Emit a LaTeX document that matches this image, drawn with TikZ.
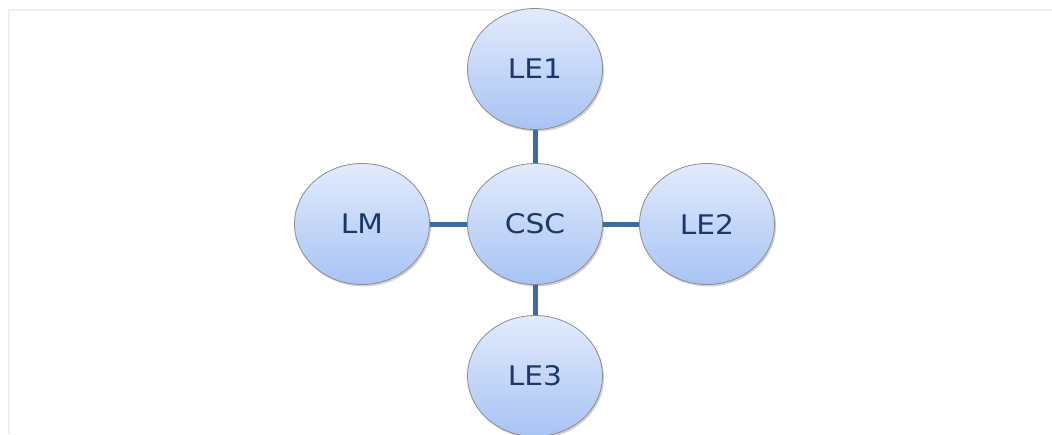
\documentclass[tikz,border=0pt]{standalone}
\usepackage{fontspec}
\setmainfont{DejaVu Sans}
\usetikzlibrary{shapes.geometric,shadows}
\definecolor{linkblue}{HTML}{3F6B9C}
\definecolor{txtblue}{HTML}{1D3868}
\definecolor{topfill}{HTML}{E2EBFC}
\definecolor{botfill}{HTML}{A8C3F4}
\begin{document}
\begin{tikzpicture}[x=1pt,y=-1pt,
  bubble/.style={ellipse,draw=gray!90,line width=0.8pt,
    top color=topfill,bottom color=botfill,
    minimum width=135pt,minimum height=121pt,inner sep=0pt,
    text=txtblue,font=\fontsize{27}{31}\selectfont,
    drop shadow={shadow xshift=1.5pt,shadow yshift=-2pt,fill=black!35}},
  link/.style={draw=linkblue,line width=5pt}]
\useasboundingbox (0,0) rectangle (1052,434);

% faint frame
\draw[gray!12,line width=1.5pt] (1052,10) -- (9,10) -- (9,434);

\node[bubble] (le1) at (535,69) {\scalebox{1.1}[1]{LE1}};
\node[bubble] (csc) at (535,224) {\scalebox{1.1}[1]{CSC}};
\node[bubble] (lm) at (362,224) {\scalebox{1.1}[1]{LM}};
\node[bubble] (le2) at (707,224) {\scalebox{1.1}[1]{LE2}};
\node[bubble] (le3) at (535,376) {\scalebox{1.1}[1]{LE3}};

\draw[link] (le1) -- (csc);
\draw[link] (lm) -- (csc);
\draw[link] (csc) -- (le2);
\draw[link] (csc) -- (le3);
\end{tikzpicture}
\end{document}
